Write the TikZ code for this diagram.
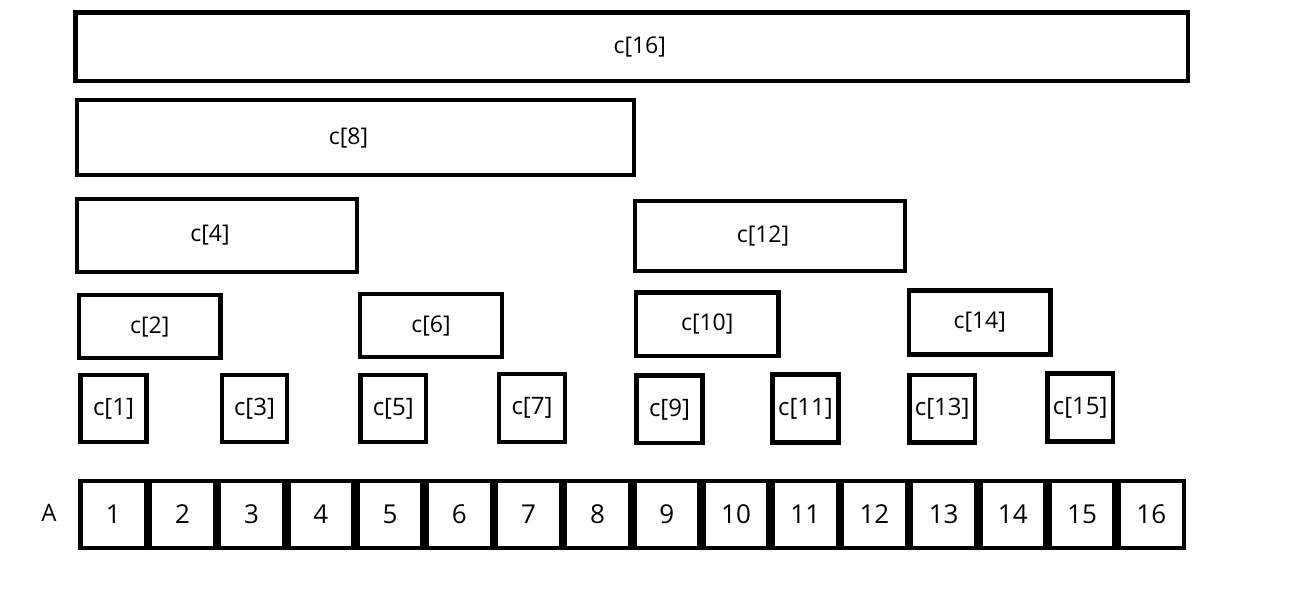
\documentclass[tikz,border=0pt]{standalone}
\usepackage{fontspec}
\setmainfont{Open Sans}
\begin{document}
\begin{tikzpicture}[x=1pt,y=-1pt,
  box/.style={draw, line width=4.5pt, rectangle, inner sep=0pt, font=\fontsize{23}{27}\selectfont},
  small/.style={box, font=\fontsize{24}{28}\selectfont},
  cell/.style={draw, line width=4.5pt, rectangle, inner sep=0pt, minimum width=65.2pt, minimum height=67pt, font=\fontsize{26}{30}\selectfont}]
\useasboundingbox (0,0) rectangle (1299,591);
\node[box, minimum width=1112.5pt, minimum height=68.5pt] (c16) at (631.75,46.75) {\hspace*{16pt}c[16]};
\node[box, minimum width=557pt, minimum height=75pt] (c8) at (355.5,137.5) {\hspace*{-14pt}c[8]};
\node[box, minimum width=280pt, minimum height=73pt] (c4) at (217,235.5) {\hspace*{-14pt}c[4]};
\node[box, minimum width=270pt, minimum height=70pt] (c12) at (770,236) {\hspace*{-14pt}c[12]};
\node[box, minimum width=141.5pt, minimum height=63pt] (c2) at (149.75,326.5) {c[2]};
\node[box, minimum width=142pt, minimum height=63pt] (c6) at (431,325.5) {c[6]};
\node[box, minimum width=142.5pt, minimum height=63.5pt] (c10) at (707.25,324.25) {c[10]};
\node[box, minimum width=141.5pt, minimum height=64pt] (c14) at (979.75,322.5) {c[14]};
\node[small, minimum width=66pt, minimum height=67pt] (c1) at (113.5,408.5) {c[1]};
\node[small, minimum width=65pt, minimum height=67pt] (c3) at (254.5,408.5) {c[3]};
\node[small, minimum width=65.5pt, minimum height=67pt] (c5) at (393.25,408.5) {c[5]};
\node[small, minimum width=66pt, minimum height=68pt] (c7) at (532,408) {c[7]};
\node[small, minimum width=66pt, minimum height=67.5pt] (c9) at (669.5,409.25) {c[9]};
\node[small, minimum width=66pt, minimum height=68pt] (c11) at (805.5,408.5) {c[11]};
\node[small, minimum width=65.5pt, minimum height=67.5pt] (c13) at (942.25,408.75) {c[13]};
\node[small, minimum width=65.5pt, minimum height=68pt] (c15) at (1080.25,407.5) {c[15]};
\foreach \i in {1,...,16} {
  \node[cell] (a\i) at ({113.25+69.2*(\i-1)},514.5) {\i};
}
\node[font=\fontsize{24}{28}\selectfont, inner sep=0pt] (A) at (49,513) {A};
\end{tikzpicture}
\end{document}
